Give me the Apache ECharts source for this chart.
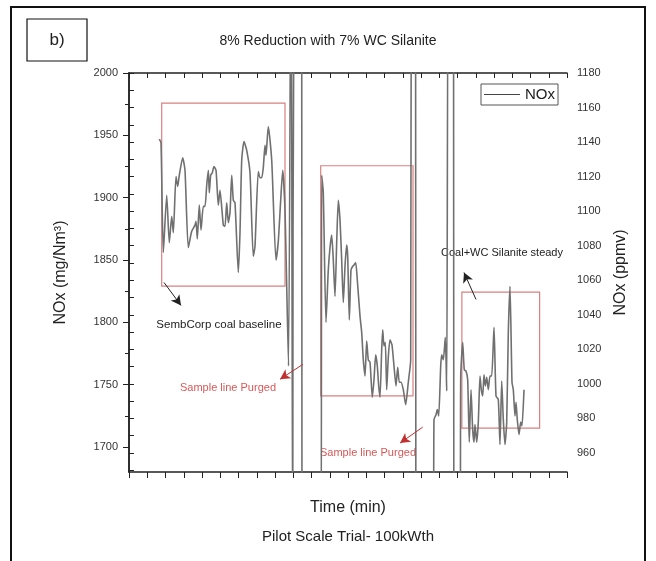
<!DOCTYPE html>
<html>
<head>
<meta charset="utf-8">
<script src="https://cdn.jsdelivr.net/npm/echarts@6/dist/echarts.min.js"></script>
<style>
html,body{margin:0;padding:0;background:#fff;}
#chart{width:656px;height:561px;}
</style>
</head>
<body>
<div id="chart"></div>
<script>
// ---- data (time in min, NOx in mg/Nm3; 2150 / 1600 = off-scale during purges)
const timeMin = [
  8.30,8.77,9.40,10.33,11.04,11.70,12.14,12.88,13.34,13.78,14.71,15.34,16.25,17.18,18.08,18.36,18.71,19.26,19.73,20.36,
  20.82,21.29,21.73,22.00,22.38,22.82,23.29,23.84,24.47,24.93,25.84,26.30,26.77,27.21,27.67,28.14,28.58,29.04,29.95,30.41,
  30.88,31.51,32.25,33.15,34.05,34.52,35.42,35.89,36.36,36.79,37.26,37.53,38.16,39.10,40.27,40.90,41.56,42.11,42.74,43.70,
  44.40,44.85,45.30,47.30,47.40,52.60,
  52.79,53.23,53.97,54.60,55.07,55.53,55.97,56.44,56.90,57.34,57.81,58.27,58.71,59.18,59.64,59.92,60.36,60.82,61.29,61.64,
  62.11,62.55,63.29,63.75,64.19,64.66,65.12,65.56,66.03,66.66,67.12,67.59,68.03,68.41,68.77,69.23,69.51,69.86,70.22,70.60,
  71.04,71.51,72.05,72.60,73.15,73.62,74.05,74.52,75.15,75.81,76.52,77.18,
  77.40,78.50,78.60,83.30,
  83.56,84.11,84.47,84.85,85.40,85.67,86.11,86.66,87.04,
  87.60,88.90,89.00,90.70,
  90.88,91.42,91.86,92.33,92.79,93.23,93.70,94.16,94.52,94.79,95.26,95.70,96.16,96.52,96.90,97.26,97.62,98.00,98.44,98.90,
  99.37,100.00,100.55,101.18,101.64,102.11,102.55,103.01,103.48,103.92,104.38,104.93,105.29,105.75,106.03,106.38,106.85,107.32,107.67,108.22
];
const noxMg = [
  1947,1944,1856,1902,1864,1885,1872,1917,1909,1918,1932,1922,1860,1873,1878,1881,1867,1894,1874,1893,
  1893,1910,1922,1904,1918,1920,1925,1922,1894,1906,1878,1877,1896,1880,1888,1918,1898,1896,1840,1872,
  1930,1945,1938,1920,1853,1861,1921,1916,1916,1924,1942,1934,1957,1930,1850,1865,1898,1922,1890,1765,
  2150,1600,2150,2150,1600,1600,
  1918,1904,1800,1842,1860,1870,1850,1821,1864,1898,1882,1850,1816,1845,1862,1853,1802,1842,1845,1846,
  1848,1834,1805,1792,1770,1757,1785,1770,1768,1740,1754,1774,1765,1749,1740,1778,1794,1781,1784,1746,
  1772,1786,1782,1765,1749,1764,1752,1752,1746,1734,1752,1770,
  2150,2150,1600,1600,
  1722,1726,1730,1725,1765,1774,1770,1788,1745,
  2150,2150,1600,1600,
  1756,1784,1762,1761,1754,1704,1746,1714,1704,1718,1704,1720,1757,1746,1741,1758,1749,1756,1746,1757,
  1757,1796,1741,1738,1702,1753,1722,1702,1720,1792,1829,1752,1746,1725,1736,1722,1710,1720,1717,1746
];
const leftLabels = [1700,1750,1800,1850,1900,1950,2000];
const leftMinor = [1725,1775,1825,1875,1925,1975];
const rightLabels = [960,980,1000,1020,1040,1060,1080,1100,1120,1140,1160,1180];
const rightTicks = [950,960,970,980,990,1000,1010,1020,1030,1040,1050,1060,1070,1080,1090,1100,1110,1120,1130,1140,1150,1160,1170,1180];

const seriesData = timeMin.map((t,i)=>[t, noxMg[i]]);

const FONT = 'Liberation Sans, Arial, sans-serif';
const AX = '#222';
const RED = '#d85858';
const plain = v => String(v);

const chart = echarts.init(document.getElementById('chart'), null, {renderer:'canvas'});
const boxStyle = {color:'rgba(0,0,0,0)', borderColor:'#d98080', borderWidth:1.2};
chart.setOption({
  animation:false,
  backgroundColor:'#fff',
  title:{text:'8% Reduction with 7% WC Silanite', left:'center', top:29,
    textStyle:{fontFamily:FONT, fontSize:14, fontWeight:'normal', color:'#222'}},
  legend:{data:[{name:'NOx', icon:'rect', itemStyle:{color:'#444'}}], left:481, top:84, itemWidth:36, itemHeight:1.2, itemGap:4,
    borderColor:'#555', borderWidth:1, padding:[3,3,3,3],
    textStyle:{fontFamily:FONT, fontSize:15, color:'#222'}},
  grid:{left:129, top:73, right:89, bottom:89, containLabel:false},
  xAxis:[
    {type:'value', min:0, max:120, interval:5, position:'bottom',
     name:'Time (min)', nameLocation:'middle', nameGap:28,
     nameTextStyle:{fontFamily:FONT, fontSize:16, color:'#222'},
     axisLine:{lineStyle:{color:AX, width:1.5}},
     axisTick:{inside:false, length:6, lineStyle:{color:AX, width:1}},
     axisLabel:{show:false}, splitLine:{show:false}},
    {type:'value', min:0, max:120, interval:5, position:'top',
     axisLine:{lineStyle:{color:AX, width:1.5}},
     axisTick:{inside:true, length:5, lineStyle:{color:AX, width:1}},
     axisLabel:{show:false}, splitLine:{show:false}}
  ],
  yAxis:[
    {type:'value', min:1680, max:2000, position:'left',
     name:'NOx (mg/Nm³)', nameLocation:'middle', nameGap:60,
     nameTextStyle:{fontFamily:FONT, fontSize:16, color:'#222'},
     axisLine:{show:true, lineStyle:{color:AX, width:1.5}},
     axisTick:{show:true, inside:false, length:6, customValues:leftLabels, lineStyle:{color:AX}},
     axisLabel:{customValues:leftLabels, formatter:plain, margin:11, fontFamily:FONT, fontSize:11, color:'#333'},
     splitLine:{show:false}},
    {type:'value', min:949, max:1180, position:'right',
     name:'NOx (ppmv)', nameLocation:'middle', nameGap:44, nameRotate:90,
     nameTextStyle:{fontFamily:FONT, fontSize:16, color:'#222'},
     axisLine:{show:true, lineStyle:{color:AX, width:1.5}},
     axisTick:{show:true, inside:false, length:5, customValues:rightTicks, lineStyle:{color:AX}},
     axisLabel:{customValues:rightLabels, formatter:plain, margin:10, fontFamily:FONT, fontSize:11, color:'#333'},
     splitLine:{show:false}},
    {type:'value', min:1680, max:2000, position:'left',
     axisLine:{show:false},
     axisTick:{show:true, inside:false, length:4, customValues:leftMinor, lineStyle:{color:AX}},
     axisLabel:{show:true, customValues:leftMinor, formatter:()=>''}, splitLine:{show:false}}
  ],
  series:[{
    name:'NOx', type:'line', xAxisIndex:0, yAxisIndex:0, data:seriesData,
    symbol:'none', smooth:0.2, clip:true,
    lineStyle:{color:'#707070', width:1.6}, itemStyle:{color:'#444'},
    markArea:{silent:true, itemStyle:boxStyle, data:[
      [{coord:[8.96,1975.8]},{coord:[42.74,1829]}],
      [{coord:[52.52,1925.6]},{coord:[77.81,1741]}],
      [{coord:[91.2,1824.2]},{coord:[112.5,1715.2]}]
    ]},
    markLine:{silent:true, symbol:['none','arrow'], symbolSize:[8,10], label:{show:false},
      data:[
        [{coord:[9.59,1832], lineStyle:{color:'#222', width:1, type:'solid'}},{coord:[14.25,1813.6]}],
        [{coord:[47.67,1766.4], lineStyle:{color:'#c03030', width:1, type:'solid'}},{coord:[41.37,1754.4]}],
        [{coord:[80.47,1716], lineStyle:{color:'#c03030', width:1, type:'solid'}},{coord:[74.25,1703.2]}],
        [{coord:[95.07,1818.4], lineStyle:{color:'#222', width:1, type:'solid'}},{coord:[91.78,1840]}]
      ]}
  }],
  graphic:[
    {type:'polyline', shape:{points:[[11,570],[11,7],[645,7],[645,570]]}, style:{stroke:'#111', lineWidth:2, fill:null}},
    {type:'rect', shape:{x:27, y:19, width:60, height:42}, style:{stroke:'#111', lineWidth:1.2, fill:'#fff'}},
    {type:'text', x:57, y:40, style:{text:'b)', fontFamily:FONT, fontSize:17, fill:'#222', align:'center', verticalAlign:'middle'}},
    {type:'text', x:348, y:537, style:{text:'Pilot Scale Trial- 100kWth', fontFamily:FONT, fontSize:15, fill:'#222', align:'center', verticalAlign:'middle'}},
    {type:'text', x:219, y:325, style:{text:'SembCorp coal baseline', fontFamily:FONT, fontSize:11.5, fill:'#222', align:'center', verticalAlign:'middle'}},
    {type:'text', x:228, y:388, style:{text:'Sample line Purged', fontFamily:FONT, fontSize:11, fill:RED, align:'center', verticalAlign:'middle'}},
    {type:'text', x:368, y:453, style:{text:'Sample line Purged', fontFamily:FONT, fontSize:11, fill:RED, align:'center', verticalAlign:'middle'}},
    {type:'text', x:502, y:253, style:{text:'Coal+WC Silanite steady', fontFamily:FONT, fontSize:11, fill:'#222', align:'center', verticalAlign:'middle'}}
  ]
});
</script>
</body>
</html>
